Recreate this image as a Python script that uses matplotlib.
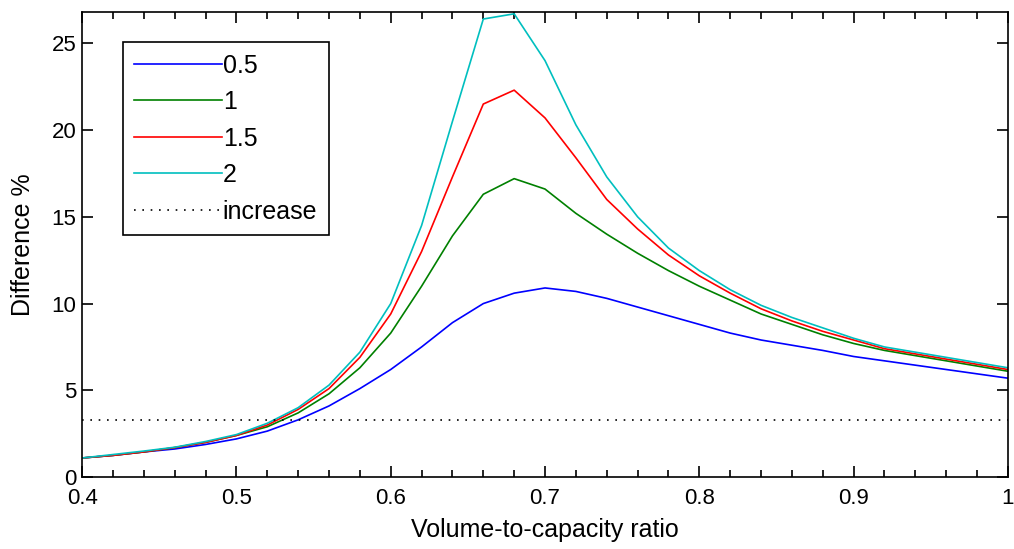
import matplotlib
matplotlib.use('Agg')
import matplotlib.pyplot as plt
from matplotlib.ticker import MultipleLocator

plt.rcParams['font.family'] = ['Liberation Sans', 'DejaVu Sans']

# volume-to-capacity ratio
vc = [0.40, 0.42, 0.44, 0.46, 0.48, 0.50, 0.52, 0.54, 0.56, 0.58,
      0.60, 0.62, 0.64, 0.66, 0.68, 0.70, 0.72, 0.74, 0.76, 0.78,
      0.80, 0.82, 0.84, 0.86, 0.88, 0.90, 0.92, 0.94, 0.96, 0.98, 1.00]

diff_05 = [1.1, 1.25, 1.45, 1.62, 1.88, 2.2, 2.65, 3.3, 4.1, 5.1,
           6.2, 7.5, 8.9, 10.0, 10.6, 10.9, 10.7, 10.3, 9.8, 9.3,
           8.8, 8.3, 7.9, 7.6, 7.3, 6.95, 6.7, 6.45, 6.2, 5.95, 5.7]
diff_1 = [1.1, 1.25, 1.45, 1.7, 2.0, 2.4, 2.9, 3.7, 4.8, 6.3,
          8.3, 11.0, 13.9, 16.3, 17.2, 16.6, 15.2, 14.0, 12.9, 11.9,
          11.0, 10.2, 9.4, 8.8, 8.2, 7.7, 7.3, 7.0, 6.7, 6.4, 6.1]
diff_15 = [1.1, 1.25, 1.45, 1.7, 2.0, 2.4, 3.0, 3.9, 5.1, 6.9,
           9.4, 13.0, 17.3, 21.5, 22.3, 20.7, 18.4, 16.0, 14.3, 12.8,
           11.6, 10.6, 9.7, 9.0, 8.4, 7.9, 7.4, 7.1, 6.8, 6.5, 6.2]
diff_2 = [1.1, 1.3, 1.5, 1.72, 2.05, 2.45, 3.1, 4.0, 5.3, 7.2,
          10.0, 14.5, 20.5, 26.4, 26.7, 24.0, 20.3, 17.3, 15.0, 13.2,
          11.9, 10.8, 9.9, 9.2, 8.6, 8.0, 7.5, 7.2, 6.9, 6.6, 6.3]

increase = 3.3

fig = plt.figure(figsize=(10.14, 5.49), dpi=100)
ax = fig.add_axes([0.081, 0.131, 0.913, 0.847])

ax.plot(vc, diff_05, color=(0, 0, 1), lw=1.2, label='0.5')
ax.plot(vc, diff_1, color=(0, 0.5, 0), lw=1.2, label='1')
ax.plot(vc, diff_15, color=(1, 0, 0), lw=1.2, label='1.5')
ax.plot(vc, diff_2, color=(0, 0.75, 0.75), lw=1.2, label='2')
ax.plot([vc[0], vc[-1]], [increase, increase], color='black', lw=1.2,
        ls=(0, (1, 4)), label='increase')

ax.set_xlim(0.4, 1.0)
ax.set_ylim(0, 26.8)
ax.xaxis.set_major_locator(MultipleLocator(0.1))
ax.xaxis.set_minor_locator(MultipleLocator(0.02))
ax.yaxis.set_major_locator(MultipleLocator(5))
ax.xaxis.set_major_formatter(plt.FuncFormatter(lambda v, p: '%g' % round(v, 2)))
ax.tick_params(which='both', direction='in', top=True, right=True,
               labelsize=16, width=1.2)
ax.tick_params(which='major', length=8)
ax.tick_params(which='minor', length=5)
ax.tick_params(axis='x', pad=8)
ax.tick_params(axis='y', pad=4)
for s in ax.spines.values():
    s.set_linewidth(1.2)

ax.set_xlabel('Volume-to-capacity ratio', fontsize=18, labelpad=6)
ax.set_ylabel('Difference %', fontsize=18, labelpad=12)

leg = ax.legend(loc='upper left', bbox_to_anchor=(0.044, 0.935), fontsize=18,
                handlelength=3.5, handletextpad=0.05, borderpad=0.45,
                labelspacing=0.5, borderaxespad=0, fancybox=False,
                framealpha=1)
leg.get_frame().set_edgecolor('black')
leg.get_frame().set_linewidth(1.2)

fig.savefig('out.png', dpi=100)
